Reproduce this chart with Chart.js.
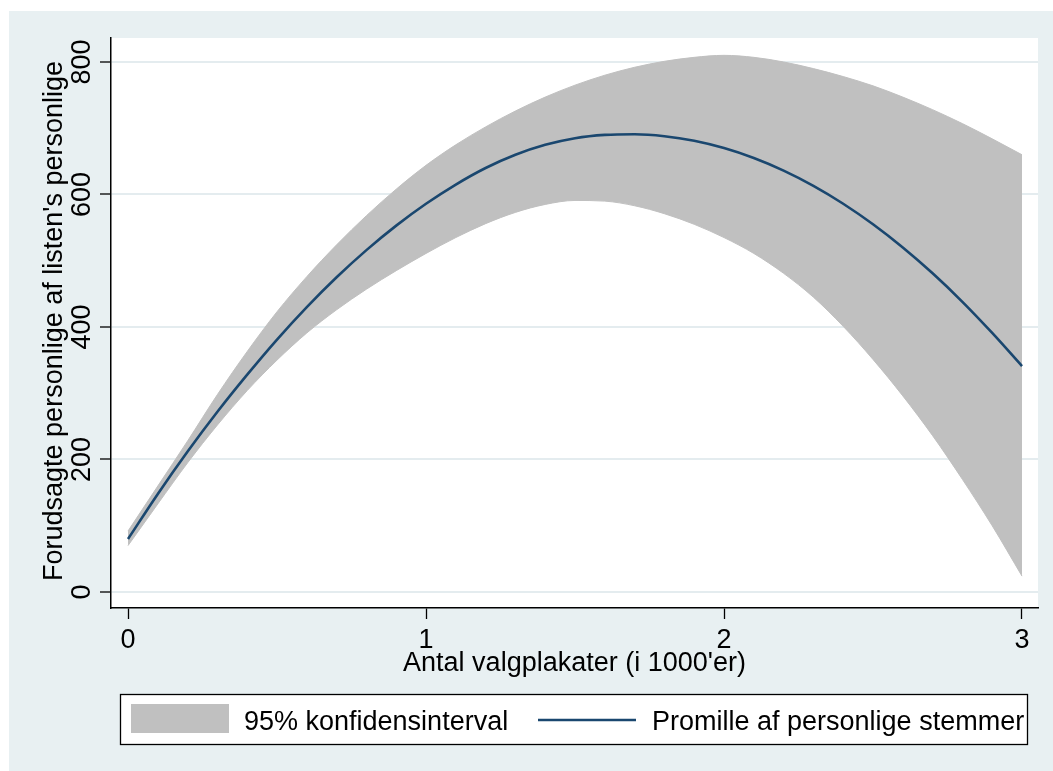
<!DOCTYPE html>
<html><head><meta charset="utf-8">
<script src="https://cdn.jsdelivr.net/npm/chart.js@4"></script>
<style>html,body{margin:0;padding:0;background:#fff;}#wrap{position:absolute;left:0;top:0;width:1053px;height:771px;}</style>
</head><body><div id="wrap"><canvas id="c" width="1053" height="771" style="width:1053px;height:771px"></canvas></div>
<script>
// ---- data ----
const xValues   = [0,0.1,0.2,0.3,0.4,0.5,0.6,0.7,0.8,0.9,1.0,1.1,1.2,1.3,1.4,1.5,1.6,1.7,1.8,1.9,2.0,2.1,2.2,2.3,2.4,2.5,2.6,2.7,2.8,2.9,3.0];
const predicted = [80,148,212,272,328,381,430,475,516,553,586,615,640,660,675,685,690,691,688,681,670,655,636,613,586,555,520,481,438,391,341];
const upperCI   = [92,160,228,298,363,423,476,524,568,608,644,675,702,726,747,765,780,792,801,807,810,807,800,790,778,764,747,728,707,684,660];
const lowerCI   = [70,133,195,252,304,350,391,426,457,485,511,535,556,573,585,591,590,583,571,555,535,511,481,445,401,351,296,236,170,100,24];
const xTickValues = [0,1,2,3];
const yTickValues = [0,200,400,600,800];
const xAxisTitle = "Antal valgplakater (i 1000'er)";
const yAxisTitle = "Forudsagte personlige af listen's personlige";
const bandLabel = "95% konfidensinterval";
const lineLabel = "Promille af personlige stemmer";

// ---- style ----
const BG = '#E8F0F2', GRID = '#E4ECEF', BAND = '#C0C0C0', LINE = '#1A476F';
const FONT = '27px "Liberation Sans", Arial, sans-serif';
const pts = arr => xValues.map((x,i)=>({x:x, y:arr[i]}));

const deco = {
  id:'deco',
  beforeDraw(chart){
    const ctx = chart.ctx, a = chart.chartArea, W = chart.width, H = chart.height;
    ctx.save();
    ctx.fillStyle = '#fff'; ctx.fillRect(0,0,W,H);
    ctx.fillStyle = BG; ctx.fillRect(9,11,W-9,H-11);
    ctx.fillStyle = '#fff'; ctx.fillRect(a.left,a.top,a.right-a.left,a.bottom-a.top);
    ctx.restore();
  },
  afterDraw(chart){
    const ctx = chart.ctx, xs = chart.scales.x, ys = chart.scales.y;
    ctx.save();
    ctx.fillStyle = '#000'; ctx.font = FONT; ctx.textBaseline = 'alphabetic';
    ctx.textAlign = 'center';
    xTickValues.forEach(v => ctx.fillText(String(v), xs.getPixelForValue(v), 648));
    yTickValues.forEach(v => {
      ctx.save(); ctx.translate(90, ys.getPixelForValue(v)); ctx.rotate(-Math.PI/2);
      ctx.fillText(String(v), 0, 0); ctx.restore();
    });
    ctx.fillText(xAxisTitle, (xs.left + xs.right)/2, 671);
    ctx.save(); ctx.translate(62, 321); ctx.rotate(-Math.PI/2); ctx.fillText(yAxisTitle, 0, 0); ctx.restore();
    // legend
    const ds = chart.data.datasets;
    ctx.fillStyle = '#fff'; ctx.fillRect(120, 694, 907, 50);
    ctx.strokeStyle = '#000'; ctx.lineWidth = 1.3; ctx.strokeRect(120.5, 694.5, 907, 50);
    ctx.fillStyle = ds[2].backgroundColor; ctx.fillRect(131, 704, 98, 29);
    ctx.strokeStyle = ds[0].borderColor; ctx.lineWidth = 2.6;
    ctx.beginPath(); ctx.moveTo(538, 720); ctx.lineTo(636, 720); ctx.stroke();
    ctx.fillStyle = '#000'; ctx.textAlign = 'left';
    ctx.fillText(ds[2].label, 244, 730);
    ctx.fillText(ds[0].label, 652, 730);
    ctx.restore();
  }
};

new Chart(document.getElementById('c'), {
  type: 'line',
  data: { datasets: [
    { label: lineLabel, data: pts(predicted), borderColor: LINE, borderWidth: 2.6, pointRadius: 0, fill: false, cubicInterpolationMode: 'monotone' },
    { label: bandLabel, data: pts(lowerCI), borderColor: BAND, borderWidth: 1, pointRadius: 0, fill: false, cubicInterpolationMode: 'monotone' },
    { label: bandLabel, data: pts(upperCI), borderColor: BAND, borderWidth: 1, backgroundColor: BAND, pointRadius: 0, fill: '-1', cubicInterpolationMode: 'monotone' }
  ]},
  options: {
    responsive: false, devicePixelRatio: 1, animation: false,
    layout: { padding: { left: 0, top: 38, right: 15, bottom: 0 } },
    plugins: { legend: { display: false }, tooltip: { enabled: false } },
    scales: {
      x: { type: 'linear', min: -0.0571, max: 3.0537,
        afterBuildTicks: s => { s.ticks = xTickValues.map(v => ({ value: v })); },
        afterFit: s => { s.height = 163; },
        ticks: { display: false },
        grid: { drawOnChartArea: false, drawTicks: true, tickLength: 11, tickColor: '#000', tickWidth: 1.3 },
        border: { display: true, color: '#000', width: 1.5 } },
      y: { type: 'linear', min: -24.15, max: 836.2,
        afterBuildTicks: s => { s.ticks = yTickValues.map(v => ({ value: v })); },
        afterFit: s => { s.width = 111; },
        ticks: { display: false },
        grid: { color: GRID, lineWidth: 2, drawTicks: true, tickLength: 11, tickColor: '#000', tickWidth: 1.3 },
        border: { display: true, color: '#000', width: 1.5 } }
    }
  },
  plugins: [deco]
});
</script></body></html>
